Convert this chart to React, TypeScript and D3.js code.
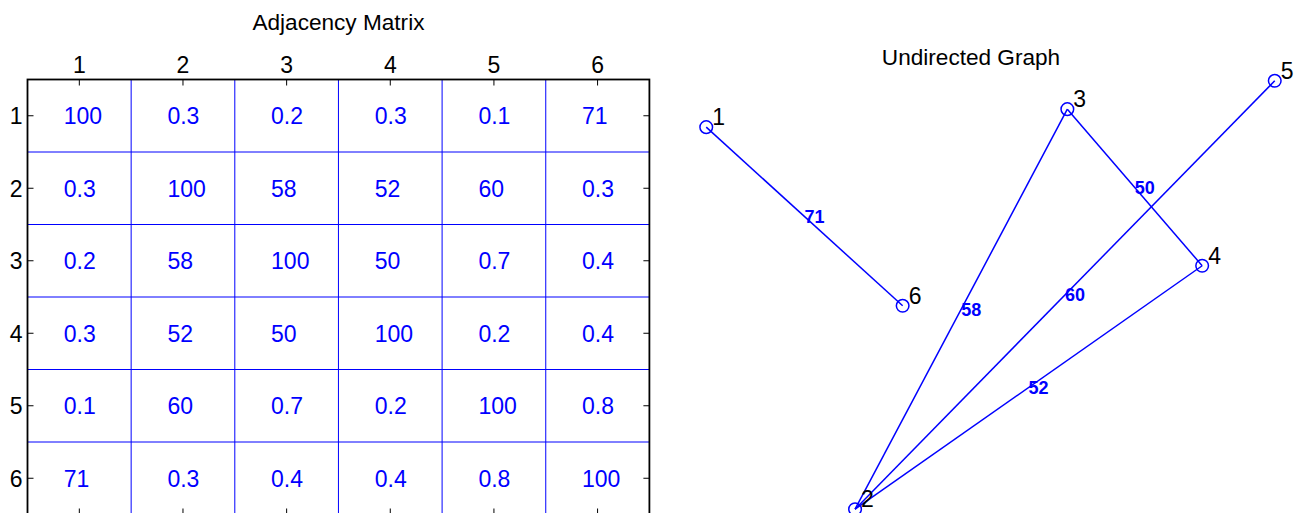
import React from 'react';
import * as d3 from 'd3';

// Node labels (also the matrix row / column tick labels)
const nodeLabels = ['1', '2', '3', '4', '5', '6'];

// Weighted adjacency matrix (symmetric, 100 on the diagonal)
const adjacency: number[][] = [
  [100, 0.3, 0.2, 0.3, 0.1, 71],
  [0.3, 100, 58, 52, 60, 0.3],
  [0.2, 58, 100, 50, 0.7, 0.4],
  [0.3, 52, 50, 100, 0.2, 0.4],
  [0.1, 60, 0.7, 0.2, 100, 0.8],
  [71, 0.3, 0.4, 0.4, 0.8, 100],
];

// Graph layout coordinates of each node, in unit space
const nodeX = [0.043, 0.287, 0.635, 0.856, 0.975, 0.365];
const nodeY = [0.873, 0.024, 0.913, 0.565, 0.976, 0.476];

// Only weights above this become edges of the graph
const edgeThreshold = 1;

const W = 1311;
const H = 513;
const FONT = '"Liberation Sans", Arial, Helvetica, sans-serif';
const BLUE = '#0000ff';
const FS = 23;

export default function App() {
  const n = nodeLabels.length;
  const idx = d3.range(1, n + 1);

  // Matrix axes
  const mx = d3.scaleLinear().domain([0.5, n + 0.5]).range([27.5, 649.4]);
  const my = d3.scaleLinear().domain([0.5, n + 0.5]).range([79.5, 514.5]);
  const tickLen = 6;

  // Graph axes
  const gx = d3.scaleLinear().domain([0, 1]).range([680, 1290]);
  const gy = d3.scaleLinear().domain([0, 1]).range([520, 70]);

  const edges: { a: number; b: number; w: number }[] = [];
  for (let i = 0; i < n; i++)
    for (let j = i + 1; j < n; j++)
      if (adjacency[i][j] > edgeThreshold) edges.push({ a: i, b: j, w: adjacency[i][j] });

  const [x0, x1] = mx.range();
  const [y0, y1] = my.range();

  return (
    <svg
      width={W}
      height={H}
      viewBox={`0 0 ${W} ${H}`}
      style={{ position: 'absolute', left: 0, top: 0, display: 'block', background: '#fff' }}
      fontFamily={FONT}
    >
      <rect x={0} y={0} width={W} height={H} fill="#fff" />

      {/* ---------- Adjacency matrix ---------- */}
      <text x={(x0 + x1) / 2} y={30} textAnchor="middle" fontSize={22.6} fill="#000">
        Adjacency Matrix
      </text>

      {/* cell separators */}
      {d3.range(1, n).map((k) => (
        <g key={`grid${k}`}>
          <line x1={mx(k + 0.5)} x2={mx(k + 0.5)} y1={y0} y2={y1} stroke={BLUE} strokeWidth={1} />
          <line x1={x0} x2={x1} y1={my(k + 0.5)} y2={my(k + 0.5)} stroke={BLUE} strokeWidth={1} />
        </g>
      ))}

      {/* cell values */}
      {adjacency.map((row, i) =>
        row.map((v, j) => (
          <text
            key={`c${i}-${j}`}
            x={mx(j + 1 - 0.15)}
            y={my(i + 1)}
            dy="0.36em"
            fontSize={FS}
            fill={BLUE}
          >
            {String(v)}
          </text>
        ))
      )}

      {/* ticks */}
      {idx.map((k) => (
        <g key={`t${k}`} stroke="#000" strokeWidth={1}>
          <line x1={mx(k)} x2={mx(k)} y1={y0} y2={y0 + tickLen} />
          <line x1={mx(k)} x2={mx(k)} y1={y1} y2={y1 - tickLen} />
          <line x1={x0} x2={x0 + tickLen} y1={my(k)} y2={my(k)} />
          <line x1={x1} x2={x1 - tickLen} y1={my(k)} y2={my(k)} />
        </g>
      ))}

      {/* tick labels */}
      {idx.map((k, i) => (
        <g key={`tl${k}`} fontSize={FS} fill="#000">
          <text x={mx(k)} y={y0 - 6.5} textAnchor="middle">
            {nodeLabels[i]}
          </text>
          <text x={x0 - 5} y={my(k)} dy="0.36em" textAnchor="end">
            {nodeLabels[i]}
          </text>
        </g>
      ))}

      {/* axes box */}
      <rect x={x0} y={y0} width={x1 - x0} height={y1 - y0} fill="none" stroke="#000" strokeWidth={1.8} />

      {/* ---------- Undirected graph ---------- */}
      <text x={971} y={65} textAnchor="middle" fontSize={22.6} fill="#000">
        Undirected Graph
      </text>

      {edges.map((e) => (
        <line
          key={`e${e.a}-${e.b}`}
          x1={gx(nodeX[e.a])}
          y1={gy(nodeY[e.a])}
          x2={gx(nodeX[e.b])}
          y2={gy(nodeY[e.b])}
          stroke={BLUE}
          strokeWidth={1.5}
        />
      ))}

      {edges.map((e) => (
        <text
          key={`w${e.a}-${e.b}`}
          x={(gx(nodeX[e.a]) + gx(nodeX[e.b])) / 2}
          y={(gy(nodeY[e.a]) + gy(nodeY[e.b])) / 2}
          dy="0.36em"
          fontSize={18}
          fontWeight="bold"
          fill={BLUE}
        >
          {String(e.w)}
        </text>
      ))}

      {nodeLabels.map((lab, i) => (
        <g key={`n${i}`}>
          <circle cx={gx(nodeX[i])} cy={gy(nodeY[i])} r={6.3} fill="none" stroke={BLUE} strokeWidth={1.5} />
          <text x={gx(nodeX[i]) + 6} y={gy(nodeY[i]) - 2} fontSize={FS} fill="#000">
            {lab}
          </text>
        </g>
      ))}
    </svg>
  );
}
